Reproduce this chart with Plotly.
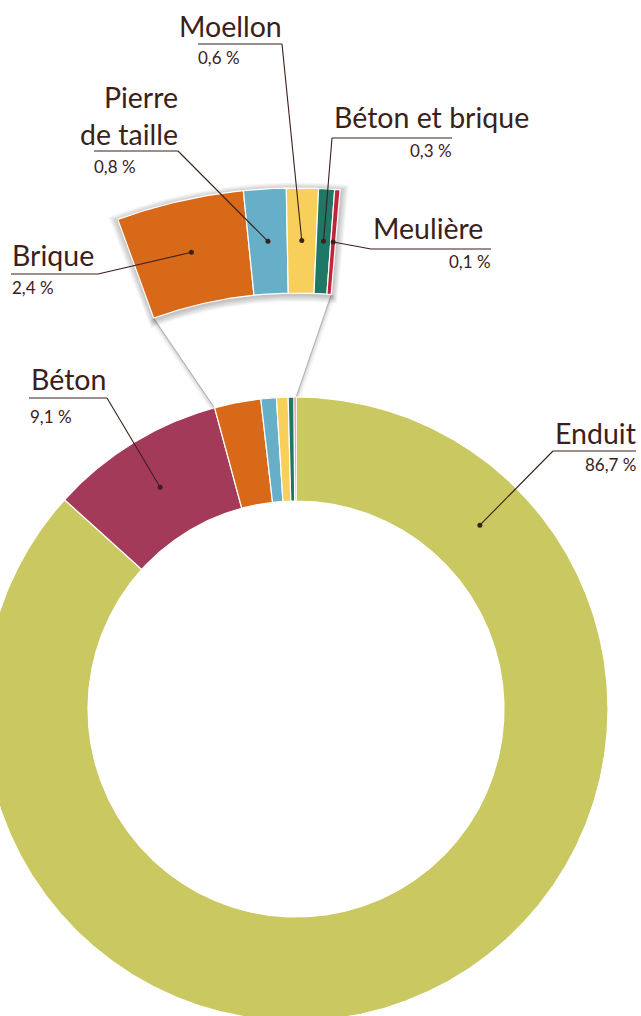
import numpy as np
import plotly.graph_objects as go

# ---------------- data ----------------
categories = ["Enduit", "Béton", "Brique", "Pierre de taille", "Moellon",
              "Béton et brique", "Meulière"]
values = [86.7, 9.1, 2.4, 0.8, 0.6, 0.3, 0.1]
value_labels = ["86,7 %", "9,1 %", "2,4 %", "0,8 %", "0,6 %", "0,3 %", "0,1 %"]
display_names = ["Enduit", "Béton", "Brique", "Pierre<br>de taille", "Moellon",
                 "Béton et brique", "Meulière"]
colors = ["#C9C861", "#A33A5A", "#D76919", "#67AEC8", "#F9CF5B", "#1F7766", "#BF2739"]
zoom_first = 2  # categories from this index on are magnified

# ---------------- geometry / style ----------------
W, H = 641, 1016
CX, CY = 296, 709
R_OUT, R_IN = 312, 208
Z_OUT, Z_IN = 521, 416
Z_START, Z_END = -20.0, 4.85
TXT = "#3a2119"
FONT = "Lato"
ENDUIT_ANCHOR = 45.0
BASE_SHIFT = 2

# label layout: underline x0, x1, y ; elbow x ; name x, anchor, baseline ; pct x, anchor, baseline
label_layout = [
    dict(u=(553, 636, 451), elbow=553, nx=637, na="right", nb=443, px=637, pa="right", pb=470),
    dict(u=(29, 107, 398), elbow=107, nx=30, na="left", nb=389, px=29, pa="left", pb=422),
    dict(u=(11, 98, 274), elbow=98, nx=11, na="left", nb=265, px=11, pa="left", pb=293),
    dict(u=(94, 178, 151), elbow=178, nx=179, na="right", nb=144, px=93, pa="left", pb=172),
    dict(u=(198, 282, 44), elbow=282, nx=283, na="right", nb=36, px=197, pa="left", pb=63),
    dict(u=(332, 452, 138), elbow=332, nx=333, na="left", nb=127, px=453, pa="right", pb=156),
    dict(u=(371, 491, 249), elbow=371, nx=372, na="left", nb=238, px=492, pa="right", pb=267),
]
NAME_SIZE = 28.5
PCT_SIZE = 17


def pt(ang_deg, r):
    a = np.radians(ang_deg)
    return CX + r * np.sin(a), CY - r * np.cos(a)


def sector(a0, a1, r0, r1):
    n = max(3, int(abs(a1 - a0) * 3) + 3)
    angs = np.linspace(a0, a1, n)
    xo, yo = pt(angs, r1)
    xi, yi = pt(angs[::-1], r0)
    x = np.concatenate([xo, xi, xo[:1]])
    y = np.concatenate([yo, yi, yo[:1]])
    return x, y


fig = go.Figure()

total = sum(values)
main_bounds = []
acc = 0.0
for v in values:
    a0 = acc / total * 360
    acc += v
    a1 = acc / total * 360
    main_bounds.append((a0, a1))

sub_total = sum(values[zoom_first:])
scale = (Z_END - Z_START) / sub_total
zoom_bounds = {}
acc = Z_START
for i in range(zoom_first, len(values)):
    a0 = acc
    acc += values[i] * scale
    zoom_bounds[i] = (a0, acc)

# ---------- funnel (connector) ----------
f_a0 = main_bounds[zoom_first][0]
f_a1 = main_bounds[-1][1]
fx_o, fy_o = pt(np.linspace(f_a0, f_a1, 40), R_OUT)
fx_i, fy_i = pt(np.linspace(Z_END + 360, Z_START + 360, 60), Z_IN)
fx = np.concatenate([fx_o, fx_i, fx_o[:1]])
fy = np.concatenate([fy_o, fy_i, fy_o[:1]])
edges = [((f_a0, R_OUT), (Z_START, Z_IN)), ((f_a1, R_OUT), (Z_END, Z_IN))]
for (pa, pz) in edges:
    x0, y0 = pt(*pa)
    x1, y1 = pt(*pz)
    for w, alpha in [(10, 0.03), (7, 0.04), (4, 0.06), (2, 0.10)]:
        fig.add_trace(go.Scatter(x=[x0, x1], y=[y0, y1], mode="lines",
                                 line=dict(color=f"rgba(0,0,0,{alpha})", width=w),
                                 hoverinfo="skip"))
fig.add_trace(go.Scatter(x=fx, y=fy, mode="lines", fill="toself", fillcolor="white",
                         line=dict(width=0, color="white"), hoverinfo="skip"))
for (pa, pz) in edges:
    x0, y0 = pt(*pa)
    x1, y1 = pt(*pz)
    fig.add_trace(go.Scatter(x=[x0, x1], y=[y0, y1], mode="lines",
                             line=dict(color="rgba(0,0,0,0.18)", width=1),
                             hoverinfo="skip"))

# ---------- main donut ----------
for i, (a0, a1) in enumerate(main_bounds):
    x, y = sector(a0, a1, R_IN, R_OUT)
    fig.add_trace(go.Scatter(x=x, y=y, mode="lines", fill="toself",
                             fillcolor=colors[i], line=dict(color="white", width=1.2),
                             name=categories[i], hoverinfo="name"))

# ---------- magnified arc shadow ----------
for k in range(7, 0, -1):
    da = np.degrees(k / 470.0)
    x, y = sector(Z_START - da, Z_END + da, Z_IN - k, Z_OUT + k)
    fig.add_trace(go.Scatter(x=x + 0.5, y=y + 1.5, mode="lines", fill="toself",
                             fillcolor="rgba(0,0,0,0.035)",
                             line=dict(width=0, color="rgba(0,0,0,0)"),
                             hoverinfo="skip"))

# ---------- magnified arc ----------
for i in range(zoom_first, len(values)):
    a0, a1 = zoom_bounds[i]
    x, y = sector(a0, a1, Z_IN, Z_OUT)
    fig.add_trace(go.Scatter(x=x, y=y, mode="lines", fill="toself",
                             fillcolor=colors[i], line=dict(color="white", width=1.2),
                             name=categories[i], hoverinfo="name"))

# ---------- leader lines, dots, labels ----------
annotations = []
for i in range(len(values)):
    L = label_layout[i]
    if i < zoom_first:
        ang = ENDUIT_ANCHOR if i == 0 else (main_bounds[i][0] + main_bounds[i][1]) / 2
        dx, dy = pt(ang, (R_IN + R_OUT) / 2)
    else:
        a0, a1 = zoom_bounds[i]
        dx, dy = pt((a0 + a1) / 2, (Z_IN + Z_OUT) / 2)
    ux0, ux1, uy = L["u"]
    fig.add_trace(go.Scatter(x=[ux0, ux1], y=[uy, uy], mode="lines",
                             line=dict(color=TXT, width=1.1), hoverinfo="skip"))
    fig.add_trace(go.Scatter(x=[L["elbow"], dx], y=[uy, dy], mode="lines",
                             line=dict(color=TXT, width=1.1), hoverinfo="skip"))
    fig.add_trace(go.Scatter(x=[dx], y=[dy], mode="markers",
                             marker=dict(color=TXT, size=5), hoverinfo="skip"))
    annotations.append(dict(x=L["nx"], y=L["nb"] + 0.213 * NAME_SIZE + BASE_SHIFT,
                            xref="x", yref="y",
                            text=display_names[i], showarrow=False, xanchor=L["na"],
                            yanchor="bottom", align=L["na"], borderpad=0,
                            font=dict(family=FONT, size=NAME_SIZE, color=TXT)))
    annotations.append(dict(x=L["px"], y=L["pb"] + 0.213 * PCT_SIZE + BASE_SHIFT,
                            xref="x", yref="y",
                            text=value_labels[i], showarrow=False, xanchor=L["pa"],
                            yanchor="bottom", align=L["pa"], borderpad=0,
                            font=dict(family=FONT, size=PCT_SIZE, color=TXT)))

fig.update_layout(
    width=W, height=H, margin=dict(l=0, r=0, t=0, b=0),
    paper_bgcolor="white", plot_bgcolor="white", showlegend=False,
    xaxis=dict(range=[0, W], visible=False, fixedrange=True),
    yaxis=dict(range=[H, 0], visible=False, fixedrange=True),
    annotations=annotations,
)
fig.write_html("out.html", config={"displayModeBar": False},
               post_script="document.body.style.margin='0';document.body.style.overflow='hidden';")
